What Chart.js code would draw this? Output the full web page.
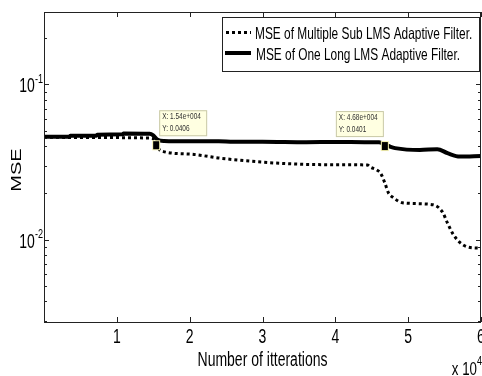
<!DOCTYPE html>
<html>
<head>
<meta charset="utf-8">
<script src="https://cdn.jsdelivr.net/npm/chart.js@4.4.1/dist/chart.umd.min.js"></script>
<style>
  html,body{margin:0;padding:0;background:#fff;}
  canvas{display:block;}
</style>
</head>
<body>
<canvas id="mseChart" width="482" height="376"></canvas>
<script>
// series
const seriesNames = ['MSE of Multiple Sub LMS Adaptive Filter.', 'MSE of One Long LMS Adaptive Filter.'];
const subX   = [0, 3500, 14500, 15200, 15500, 16000, 20000, 24200, 30000, 34700, 40000, 44400, 44800, 45700, 46200, 46800, 47300, 48000, 49200, 53400, 54700, 55400, 56200, 57100, 58100, 60000];
const subMSE = [0.0458, 0.0456, 0.0452, 0.0440, 0.0406, 0.0375, 0.0356, 0.0335, 0.0316, 0.0307, 0.0304, 0.0303, 0.0294, 0.0281, 0.0269, 0.0232, 0.0200, 0.0186, 0.0173, 0.0168, 0.0151, 0.0128, 0.0108, 0.0096, 0.0090, 0.0088];
const longX   = [0, 3500, 3600, 7200, 7300, 10800, 10900, 14500, 15000, 15600, 16500, 20000, 24000, 26000, 30000, 36000, 40000, 44000, 46000, 46800, 47600, 48200, 51600, 54000, 55400, 57100, 60000];
const longMSE = [0.0460, 0.0460, 0.0467, 0.0468, 0.0475, 0.0477, 0.0484, 0.0482, 0.0470, 0.0440, 0.0432, 0.0430, 0.0430, 0.0427, 0.0428, 0.0425, 0.0426, 0.0425, 0.0424, 0.0410, 0.0396, 0.0389, 0.0378, 0.0383, 0.0361, 0.0343, 0.0346];
// data tips
const tipX = [15400, 46800];
const tipY = [0.0406, 0.0401];
// axes
const xTickVals   = [10000, 20000, 30000, 40000, 50000, 60000];
const xTickLabels = ['1', '2', '3', '4', '5', '6'];
const xScaleBase = 'x 10', xScaleExp = '4';
const yMajorVals = [0.01, 0.1];
const yMajorExp  = ['-2', '-1'];
const yMinorVals = [0.003, 0.004, 0.005, 0.006, 0.007, 0.008, 0.009, 0.02, 0.03, 0.04, 0.05, 0.06, 0.07, 0.08, 0.09, 0.2];
const xTitle = 'Number of itterations', yTitle = 'MSE';

const FONT = '"Liberation Sans", Arial, sans-serif';
const SX = 0.7; // the figure is squeezed sideways
function txt(ctx, s, x, y, size, align, sx){
  sx = sx || SX;
  ctx.save(); ctx.font = size + 'px ' + FONT; ctx.textAlign = align || 'left'; ctx.textBaseline = 'alphabetic';
  ctx.translate(x, y); ctx.scale(sx, 1); ctx.fillText(s, 0, 0); ctx.restore();
}
function txtW(ctx, s, size, sx){ ctx.save(); ctx.font = size + 'px ' + FONT; const w = ctx.measureText(s).width * (sx || SX); ctx.restore(); return w; }
function matE(v){ const e = Math.floor(Math.log10(v)); return (v / Math.pow(10, e)).toFixed(2) + 'e+' + String(e).padStart(3, '0'); }

const matlabFrame = {
  id: 'matlabFrame',
  afterDraw(chart){
    const { ctx, chartArea: a, scales: { x, y } } = chart;
    ctx.save();
    ctx.fillStyle = '#000'; ctx.strokeStyle = '#222'; ctx.lineWidth = 1;
    ctx.strokeRect(a.left + 0.5, a.top + 0.5, a.right - a.left - 1, a.bottom - a.top);
    ctx.beginPath();
    xTickVals.forEach(v => { const px = Math.round(x.getPixelForValue(v)) + 0.5;
      ctx.moveTo(px, a.bottom); ctx.lineTo(px, a.bottom - 5); ctx.moveTo(px, a.top); ctx.lineTo(px, a.top + 5); });
    yMajorVals.forEach(v => { const py = Math.round(y.getPixelForValue(v)) + 0.5;
      ctx.moveTo(a.left, py); ctx.lineTo(a.left + 5, py); ctx.moveTo(a.right, py); ctx.lineTo(a.right - 5, py); });
    yMinorVals.forEach(v => { const py = Math.round(y.getPixelForValue(v)) + 0.5;
      ctx.moveTo(a.left, py); ctx.lineTo(a.left + 3, py); ctx.moveTo(a.right, py); ctx.lineTo(a.right - 3, py); });
    ctx.stroke();
    // tick labels
    xTickVals.forEach((v, i) => txt(ctx, xTickLabels[i], x.getPixelForValue(v), a.bottom + 21, 20, 'center'));
    yMajorVals.forEach((v, i) => {
      const py = y.getPixelForValue(v);
      const w = txtW(ctx, yMajorExp[i], 13);
      txt(ctx, yMajorExp[i], a.left - 1, py - 1.5, 13, 'right');
      txt(ctx, '10', a.left - 1 - w, py + 8, 20, 'right');
    });
    txt(ctx, xScaleBase, 477, 375, 19, 'right');
    txt(ctx, xScaleExp, 477, 365, 13, 'left');
    // axis titles
    txt(ctx, xTitle, (a.left + a.right) / 2, 366, 20, 'center');
    ctx.save(); ctx.font = '20px ' + FONT; ctx.textAlign = 'center'; ctx.textBaseline = 'middle';
    ctx.translate(17, 170); ctx.scale(SX, 1); ctx.rotate(-Math.PI / 2); ctx.fillText(yTitle, 0, 0); ctx.restore();
    // data tips
    tipX.forEach((tx, i) => {
      const px = x.getPixelForValue(tx), py = y.getPixelForValue(tipY[i]);
      const bx = i === 0 ? px + 3 : px - 49, by = py - 35;
      ctx.fillStyle = '#ffffe1'; ctx.strokeStyle = '#c9c9a8'; ctx.lineWidth = 1;
      ctx.fillRect(bx, by, 48, 26); ctx.strokeRect(bx + 0.5, by + 0.5, 47, 25);
      ctx.fillStyle = '#333';
      txt(ctx, 'X: ' + matE(tx), bx + 3, by + 9, 9, 'left', 0.72);
      txt(ctx, 'Y: ' + tipY[i].toPrecision(3), bx + 3, by + 21, 9, 'left', 0.72);
      ctx.fillStyle = '#f4f0b0'; ctx.fillRect(px - 4, py - 5, 8, 10);
      ctx.fillStyle = '#000'; ctx.fillRect(px - 3, py - 4, 6, 8);
    });
    // legend
    const lx = 222, ly = 17, lw = 257, lh = 54;
    ctx.fillStyle = '#fff'; ctx.fillRect(lx, ly, lw, lh);
    ctx.strokeStyle = '#222'; ctx.lineWidth = 1; ctx.strokeRect(lx + 0.5, ly + 0.5, lw, lh);
    ctx.strokeStyle = '#000';
    ctx.lineWidth = 3; ctx.setLineDash([3, 3]);
    ctx.beginPath(); ctx.moveTo(226, 32.5); ctx.lineTo(251, 32.5); ctx.stroke();
    ctx.setLineDash([]); ctx.lineWidth = 4;
    ctx.beginPath(); ctx.moveTo(225, 53); ctx.lineTo(251, 53); ctx.stroke();
    ctx.fillStyle = '#000';
    txt(ctx, seriesNames[0], 255, 38.5, 16.5, 'left', 0.72);
    txt(ctx, seriesNames[1], 256, 59.5, 16.5, 'left', 0.72);
    ctx.restore();
  }
};

new Chart(document.getElementById('mseChart'), {
  type: 'line',
  data: { datasets: [
    { label: seriesNames[0], data: subX.map((v, i) => ({ x: v, y: subMSE[i] })), borderColor: '#000', borderWidth: 3,
      borderDash: [3, 3], pointRadius: 0, cubicInterpolationMode: 'monotone' },
    { label: seriesNames[1], data: longX.map((v, i) => ({ x: v, y: longMSE[i] })), borderColor: '#000', borderWidth: 4,
      pointRadius: 0, cubicInterpolationMode: 'monotone' }
  ]},
  options: {
    responsive: false, animation: false, devicePixelRatio: 1,
    layout: { padding: { left: 44, top: 12, right: 1, bottom: 54 } },
    plugins: { legend: { display: false }, tooltip: { enabled: false } },
    scales: {
      x: { type: 'linear', min: 0, max: 60000, display: false },
      y: { type: 'logarithmic', min: 0.00295, max: 0.293, display: false }
    }
  },
  plugins: [matlabFrame]
});
</script>
</body>
</html>
